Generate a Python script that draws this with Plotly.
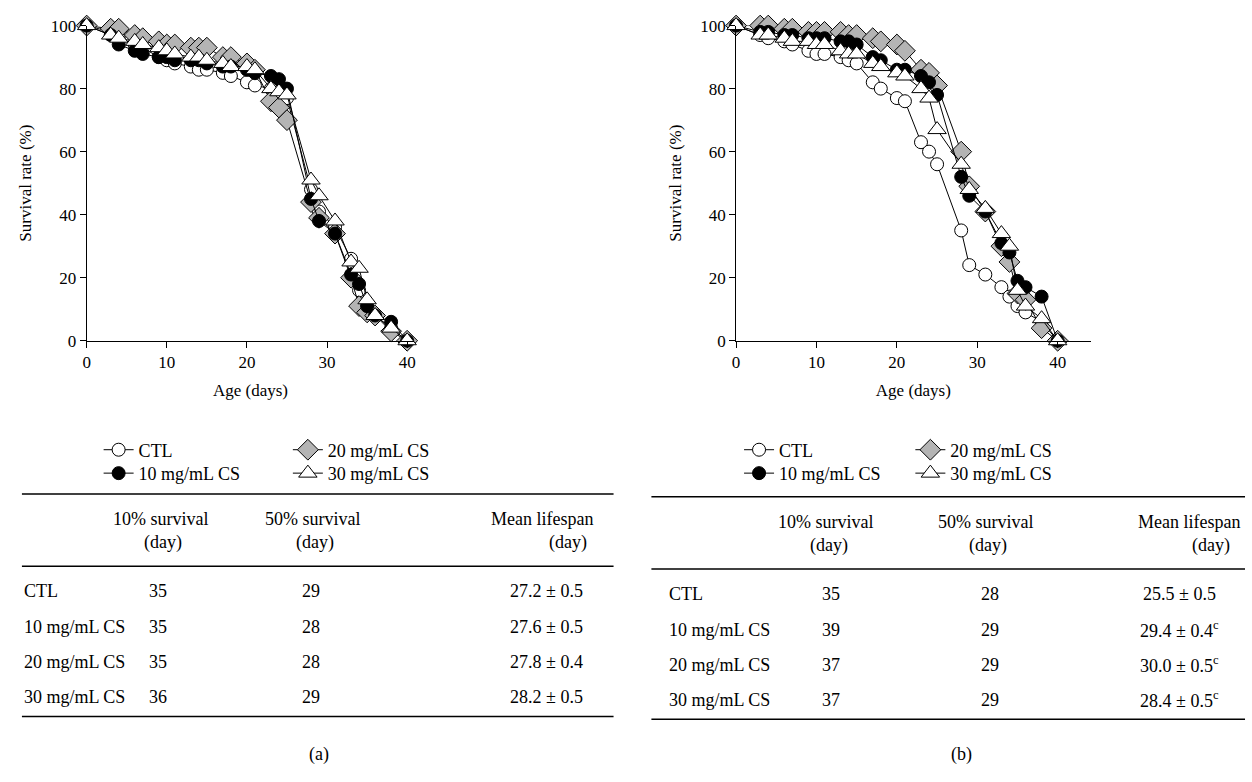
import plotly.graph_objects as go

W, H = 1252, 782
FONT = "Liberation Serif"

# ---------------- data ----------------
days = [0, 3, 4, 6, 7, 9, 10, 11, 13, 14, 15, 17, 18, 20, 21, 23, 24, 25, 28, 29, 31, 33, 34, 35, 36, 38, 40]

a_ctl = [100, 98, 96, 94, 93, 90, 89, 88, 87, 86, 86, 85, 84, 82, 81, 80, 79, 77, 48, 41, 36, 26, 16, 10, 8, 4, 0]
a_10 = [100, 97, 94, 92, 91, 90, 90, 89, 89, 89, 88, 87, 87, 86, 85, 84, 83, 80, 45, 38, 34, 21, 18, 11, 8, 6, 0]
a_20 = [100, 99, 99, 97, 96, 95, 94, 94, 93, 93, 93, 90, 90, 88, 86, 76, 74, 70, 44, 39, 34, 20, 11, 9, 8, 3, 0]
a_30 = [100, 97, 96, 95, 94, 93, 92, 91, 90, 90, 89, 88, 87, 87, 86, 80, 79, 78, 51, 46, 38, 25, 23, 13, 8, 4, 0]

b_ctl = [100, 97, 96, 95, 94, 92, 91, 91, 90, 89, 88, 82, 80, 77, 76, 63, 60, 56, 35, 24, 21, 17, 14, 11, 9, 6, 0]
b_10 = [100, 98, 98, 97, 97, 96, 96, 96, 95, 95, 94, 90, 89, 86, 86, 84, 82, 78, 52, 46, 41, 31, 28, 19, 17, 14, 0]
b_20 = [100, 100, 100, 99, 99, 98, 98, 98, 98, 97, 97, 96, 95, 94, 92, 86, 85, 81, 60, 49, 41, 30, 25, 15, 13, 4, 0]
b_30 = [100, 97, 97, 96, 95, 95, 94, 94, 92, 91, 91, 88, 87, 85, 84, 80, 77, 67, 56, 48, 42, 34, 30, 16, 11, 7, 0]

groups = ["CTL", "10 mg/mL CS", "20 mg/mL CS", "30 mg/mL CS"]

x_ticks = [0, 10, 20, 30, 40]
y_ticks = [0, 20, 40, 60, 80, 100]

table_cols = ["10% survival", "50% survival", "Mean lifespan"]
a_10pct = ["35", "35", "35", "36"]
a_50pct = ["29", "28", "28", "29"]
a_mean = ["27.2 ± 0.5", "27.6 ± 0.5", "27.8 ± 0.4", "28.2 ± 0.5"]
b_10pct = ["35", "39", "37", "37"]
b_50pct = ["28", "29", "29", "29"]
b_mean = ["25.5 ± 0.5", "29.4 ± 0.4<sup>c</sup>", "30.0 ± 0.5<sup>c</sup>", "28.4 ± 0.5<sup>c</sup>"]

# ---------------- styles ----------------
styles = {
    "CTL": dict(symbol="circle", color="white", size=13),
    "10 mg/mL CS": dict(symbol="circle", color="black", size=13),
    "20 mg/mL CS": dict(symbol="diamond", color="#b4b4b4", size=16),
    "30 mg/mL CS": dict(symbol="triangle-up", color="white", size=16),
}
draw_order = [0, 2, 1, 3]


def px(x):
    return x / W


def py(y):
    return 1 - y / H


fig = go.Figure()

panels = [
    dict(series=[a_ctl, a_10, a_20, a_30], xa="x", ya="y", legx=[95, 95, 285, 285]),
    dict(series=[b_ctl, b_10, b_20, b_30], xa="x2", ya="y2", legx=[738, 738, 910, 910]),
]
leg_rows = [452, 476, 452, 476]

legend_layouts = {}
li = 1
for p in panels:
    for k in draw_order:
        name = groups[k]
        st = styles[name]
        lname = "legend" if li == 1 else f"legend{li}"
        fig.add_trace(go.Scatter(
            x=days, y=p["series"][k], mode="lines+markers", name=name,
            xaxis=p["xa"], yaxis=p["ya"], cliponaxis=False,
            line=dict(color="black", width=1),
            marker=dict(symbol=st["symbol"], size=st["size"], color=st["color"],
                        line=dict(color="black", width=1)),
            legend=lname, showlegend=True,
        ))
        legend_layouts[lname] = dict(
            x=px(p["legx"][k]), y=py(leg_rows[k]), xanchor="left", yanchor="middle",
            font=dict(family=FONT, size=18, color="black"), bgcolor="rgba(0,0,0,0)",
            itemwidth=30, borderwidth=0,
        )
        li += 1

axis_common = dict(
    showline=True, linecolor="black", linewidth=1, ticks="outside", ticklen=6,
    tickcolor="black", tickwidth=1, showgrid=False, zeroline=False,
    tickfont=dict(family=FONT, size=17, color="black"),
)
xtitle = dict(text="Age (days)", font=dict(family=FONT, size=17, color="black"), standoff=12)
ytitle = dict(text="Survival rate (%)", font=dict(family=FONT, size=17, color="black"), standoff=14)

fig.update_layout(
    width=W, height=H, margin=dict(l=0, r=0, t=0, b=0),
    paper_bgcolor="white", plot_bgcolor="white",
    xaxis=dict(domain=[px(83), px(412)], range=[0, 40.9], tickvals=x_ticks, anchor="y",
               title=xtitle, **axis_common),
    yaxis=dict(domain=[py(340), py(17)], range=[0, 100], tickvals=y_ticks, anchor="x",
               title=ytitle, **axis_common),
    xaxis2=dict(domain=[px(735), px(1091)], range=[0, 44.1], tickvals=x_ticks, anchor="y2",
                title=xtitle, **axis_common),
    yaxis2=dict(domain=[py(340), py(17)], range=[0, 100], tickvals=y_ticks, anchor="x2",
                title=ytitle, **axis_common),
    **legend_layouts,
)

ann = []
shapes = []


def text(x, y, s, size=18, anchor="center"):
    ann.append(dict(x=px(x), y=py(y), xref="paper", yref="paper", text=s, showarrow=False,
                    xanchor=anchor, yanchor="middle",
                    font=dict(family=FONT, size=size, color="black")))


def hline(x0, x1, y, w=1.5):
    shapes.append(dict(type="line", xref="paper", yref="paper", x0=px(x0), x1=px(x1),
                       y0=py(y), y1=py(y), line=dict(color="black", width=w)))


# tables
tables = [
    dict(x0=18, x1=612, lab=18, c=[155, 308, 545], hc=[157, 310, 540], hd=[160, 312, 566],
         v=[a_10pct, a_50pct, a_mean], dy=0, cap="(a)", capx=316),
    dict(x0=650, x1=1246, lab=666, c=[830, 990, 1180], hc=[825, 985, 1190], hd=[828, 988, 1212],
         v=[b_10pct, b_50pct, b_mean], dy=3, cap="(b)", capx=961),
]
rows_y = [597, 633, 669, 705]
for t in tables:
    d = t["dy"]
    hline(t["x0"], t["x1"], 497 + d)
    hline(t["x0"], t["x1"], 571 + d)
    hline(t["x0"], t["x1"], 725 + d)
    for j, col in enumerate(table_cols):
        text(t["hc"][j], 523 + d, col)
        text(t["hd"][j], 547 + d, "(day)")
    for i, g in enumerate(groups):
        text(t["lab"], rows_y[i] + d, g, anchor="left")
        for j in range(3):
            text(t["c"][j], rows_y[i] + d, t["v"][j][i])
    text(t["capx"], 764, t["cap"])

fig.update_layout(annotations=ann, shapes=shapes)
fig.write_html("out.html")
